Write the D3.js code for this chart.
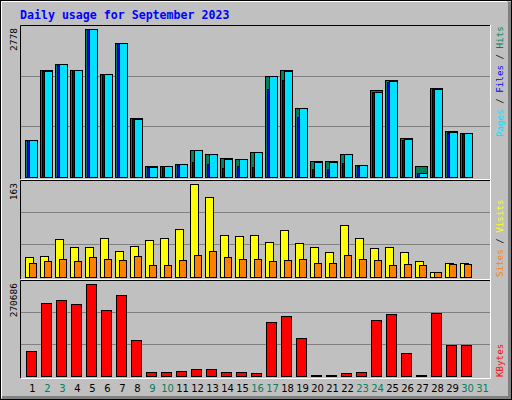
<!DOCTYPE html>
<html><head><meta charset="utf-8">
<script src="https://cdn.jsdelivr.net/npm/d3@7"></script>
<style>body{margin:0;background:#fff}svg{display:block}</style>
</head><body>
<svg id="c" width="512" height="400"></svg>
<script>
const days = d3.range(1, 32);
const weekend = [2,3,9,10,16,17,23,24,30,31];
const hits  = [685,2004,2117,2004,2778,1929,2513,1100,195,195,233,497,421,346,327,459,1891,2004,1288,289,289,421,214,1640,1816,723,195,1665,855,817,0];
const files = [685,1985,2117,2004,2778,1929,2513,1081,176,195,233,270,233,157,195,176,1646,1816,1118,138,138,251,195,1590,1780,700,63,1646,835,800,0];
const pages = [685,1985,2117,2004,2778,1929,2513,1081,176,195,233,497,421,327,327,459,1891,1985,1288,270,270,421,214,1590,1800,705,63,1646,835,817,0];
const visits = [34,36,66,53,53,68,46,55,64,68,85,163,140,73,71,73,62,82,59,52,43,92,69,50,53,43,27,8,24,24,0];
const sites  = [24,27,31,27,34,31,29,36,20,20,29,38,46,34,31,31,27,29,31,24,24,38,31,29,20,22,20,8,22,22,0];
const kbytes = [72100,214400,223300,211400,270686,193700,238200,104700,9800,9800,12800,18700,18700,9800,9800,6900,158100,175900,110600,3000,3000,6900,9800,164000,181800,66200,3000,184800,89900,89900,0];
const maxLabels = ["2778","163","270686"];

const svg = d3.select("#c");
const mono = "DejaVu Sans Mono, monospace";
svg.append("rect").attr("width",512).attr("height",400).attr("fill","#c0c0c0");
// 3D frame
svg.append("rect").attr("x",0.5).attr("y",0.5).attr("width",511).attr("height",399).attr("fill","none").attr("stroke","#000");
svg.append("path").attr("d","M1.5,398 V1.5 H507").attr("fill","none").attr("stroke","#fff");
svg.append("rect").attr("x",508).attr("y",2).attr("width",3).attr("height",397).attr("fill","#808080");
svg.append("rect").attr("x",2).attr("y",396).attr("width",509).attr("height",3).attr("fill","#808080");

svg.append("text").attr("x",20).attr("y",19).attr("font-family",mono).attr("font-weight","bold")
  .attr("font-size","11.6px").attr("fill","#0000ff").text("Daily usage for September 2023");

const x = d3.scaleLinear().domain([1,31]).range([25,475]);
const panels = [
  {t:25,b:179,base:176.7,max:2778,px:147.4},
  {t:180,b:279,base:276.7,max:163,px:92.4},
  {t:280,b:378,base:375.7,max:270686,px:91.3}
];
panels.forEach((p,i)=>{
  p.y = d3.scaleLinear().domain([0,p.max]).range([p.base,p.base-p.px]);
  [1,2].forEach(k=>{
    const gy = Math.round(p.t+(p.base-p.t)*k/3)+0.5;
    svg.append("line").attr("x1",21).attr("x2",490).attr("y1",gy).attr("y2",gy).attr("stroke","#808080");
  });
  svg.append("path").attr("d",`M20.5,${p.b} V${p.t+0.5} H491`).attr("fill","none").attr("stroke","#000");
  svg.append("path").attr("d",`M21,${p.b+0.5} H490.5 V${p.t}`).attr("fill","none").attr("stroke","#fff");
  svg.append("text").attr("transform",`translate(17,${p.t+3}) rotate(-90)`).attr("text-anchor","end")
    .attr("font-family",mono).attr("font-size","9.5px").attr("fill","#000").text(maxLabels[i]);
});

function bars(panel, data, off, w, color){
  const y = panel.y;
  svg.append("g").selectAll("rect").data(days.filter((d,i)=>data[i]>0)).join("rect")
    .attr("x",d=>Math.round(x(d))+off+0.5).attr("width",w)
    .attr("y",d=>Math.round(y(data[d-1]))+0.5)
    .attr("height",d=>Math.max(1,Math.round(panel.base)-Math.round(y(data[d-1]))))
    .attr("fill",color).attr("stroke","#000");
}
bars(panels[0],hits,0,12,"#00805c");
bars(panels[0],files,2,10,"#0000ff");
bars(panels[0],pages,4,8,"#00e0ff");
bars(panels[1],visits,0,8,"#ffff00");
bars(panels[1],sites,4,7,"#ff8000");
bars(panels[2],kbytes,1,10,"#ff0000");

// legends (rotated)
function legend(xp, yp, parts){
  const t = svg.append("text").attr("transform",`translate(${xp},${yp}) rotate(-90)`)
    .attr("font-family",mono).attr("font-size","9.2px");
  parts.forEach(([s,c])=>t.append("tspan").attr("fill",c).text(s));
}
legend(503,137,[["Pages","#00e0ff"],[" / ","#000"],["Files","#0000ff"],[" / ","#000"],["Hits","#00805c"]]);
legend(503,277,[["Sites","#ff8000"],[" / ","#000"],["Visits","#ffff00"]]);
legend(503,377,[["KBytes","#ff0000"]]);

svg.append("g").selectAll("text").data(days).join("text")
  .attr("x",d=>x(d)+7.5).attr("y",392).attr("text-anchor","middle")
  .attr("font-family","DejaVu Sans, sans-serif").attr("font-size","10px")
  .attr("fill",d=>weekend.includes(d)?"#00805c":"#000").text(d=>d);
</script>
</body></html>
